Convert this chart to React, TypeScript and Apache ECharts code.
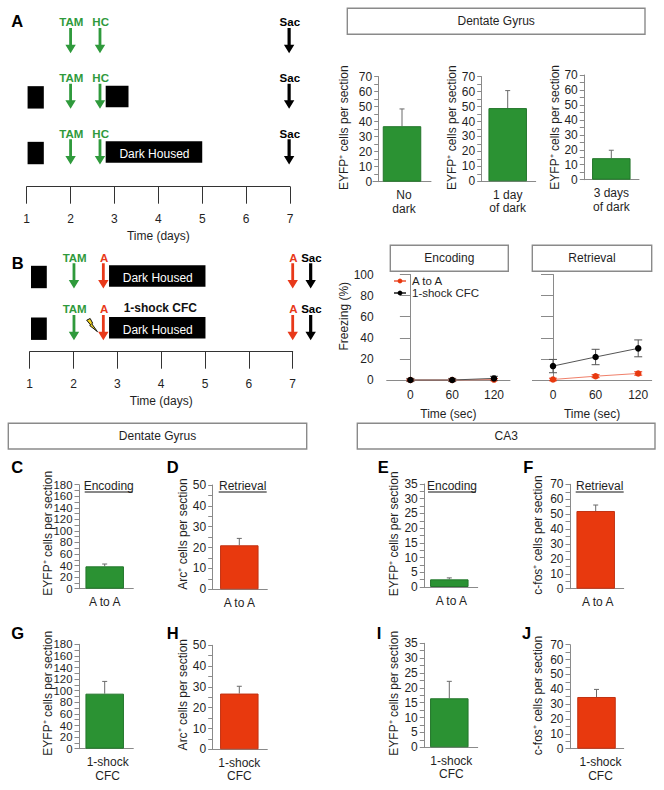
import React, { useEffect, useRef } from "react";
import * as echarts from "echarts";

const FONT = '"Liberation Sans", Arial, sans-serif';
const GREEN = "#2b9233";
const GREEN_EDGE = "#23762b";
const RED = "#e8390e";
const RED_EDGE = "#c23212";
const ARROW_GREEN = "#2f9a3c";
const ARROW_RED = "#e8391a";
const GREY = "#8a8a8a";
const INK = "#1f1f1f";

// ---------- Data ----------
const darkCategories = ["No\ndark", "1 day\nof dark", "3 days\nof dark"];
const darkMeans = [37, 49, 14.4];
const darkErrorTops = [48.5, 60.7, 19.7];

const dgEyfpTicksMax = 180;
const dgArcTicksMax = 50;
const ca3EyfpTicksMax = 35;
const ca3FosTicksMax = 70;
const dgEyfpTickValues = [0, 20, 40, 60, 80, 100, 120, 140, 160, 180];

const aToALabel = "A to A";
const shockLabel = "1-shock\nCFC";
const regionMeans = [38.7, 21.1, 2.6, 52.1, 94.9, 26.8, 16.5, 34.8];
const regionErrorTops = [42.7, 24.4, 3.1, 56.1, 116, 30.3, 22.2, 39.9];

const freezeSeconds = [0, 60, 120];
const encodingAToA = [0, 0, 0.4];
const encodingShock = [0, 0, 1.5];
const encodingErrors = [1.5, 1.5, 2];
const retrievalAToA = [0.5, 3.6, 6.2];
const retrievalShock = [13.2, 21.8, 30];
const retrievalAToAErrors = [1.2, 1.4, 1.6];
const retrievalShockErrors = [6.3, 7.3, 8];

const dayTicks = [1, 2, 3, 4, 5, 6, 7];
// [label, day, row, colour name]
const scheduleAEvents: [string, number, number, string][] = [
  ["TAM", 2, 0, "green"], ["HC", 2.67, 0, "green"], ["Sac", 6.98, 0, "black"],
  ["TAM", 2, 1, "green"], ["HC", 2.67, 1, "green"], ["Sac", 6.98, 1, "black"],
  ["TAM", 2, 2, "green"], ["HC", 2.67, 2, "green"], ["Sac", 6.98, 2, "black"],
];
const scheduleBEvents: [string, number, number, string][] = [
  ["TAM", 2.01, 0, "green"], ["A", 2.68, 0, "red"], ["A", 7, 0, "red"], ["Sac", 7.41, 0, "black"],
  ["TAM", 2.01, 1, "green"], ["A", 2.68, 1, "red"], ["A", 7, 1, "red"], ["Sac", 7.41, 1, "black"],
];
// [start day, end day, row, caption]
const scheduleABoxes: [number, number, number, string][] = [
  [1.02, 1.39, 1, ""], [2.8, 3.32, 1, ""],
  [1.02, 1.39, 2, ""], [2.8, 5, 2, "Dark Housed"],
];
const scheduleBBoxes: [number, number, number, string][] = [
  [1.03, 1.39, 0, ""], [2.81, 5.01, 0, "Dark Housed"],
  [1.03, 1.39, 1, ""], [2.81, 5.01, 1, "Dark Housed"],
];

// ---------- Layout ----------
const barLayouts = [
  { axisX: 378.7, top: 76.7, bottom: 181.7, center: 402, right: 431, shift: 2, max: 70, interval: 10, name: "EYFP⁺ cells per section", gap: 29, nameY: 127.7, color: GREEN, edge: GREEN_EDGE },
  { axisX: 481.7, top: 76.7, bottom: 181.3, center: 507.7, right: 535.7, shift: 0, max: 70, interval: 10, name: "EYFP⁺ cells per section", gap: 18.5, nameY: 127.7, color: GREEN, edge: GREEN_EDGE },
  { axisX: 584.3, top: 75, bottom: 179.7, center: 611.3, right: 639, shift: 0, max: 70, interval: 10, name: "EYFP⁺ cells per section", gap: 23, nameY: 127.7, color: GREEN, edge: GREEN_EDGE },
];
const regionLayouts = [
  { axisX: 79, top: 484.7, bottom: 588.7, center: 104.7, right: 133.3, shift: 0, max: dgEyfpTicksMax, interval: 20, name: "EYFP⁺ cells per section", gap: 25, nameY: 533.3, color: GREEN, edge: GREEN_EDGE, label: aToALabel },
  { axisX: 212.7, top: 485, bottom: 589.3, center: 239.3, right: 267.3, shift: 0, max: dgArcTicksMax, interval: 10, name: "Arc⁺ cells per section", gap: 21, nameY: 534, color: RED, edge: RED_EDGE, label: aToALabel },
  { axisX: 424.3, top: 484, bottom: 587, center: 449.3, right: 477.7, shift: 2, max: ca3EyfpTicksMax, interval: 5, name: "EYFP⁺ cells per section", gap: 24, nameY: 533.8, color: GREEN, edge: GREEN_EDGE, label: aToALabel },
  { axisX: 570, top: 484.3, bottom: 588.7, center: 595.7, right: 623.7, shift: 2, max: ca3FosTicksMax, interval: 10, name: "c-fos⁺ cells per section", gap: 26, nameY: 535, color: RED, edge: RED_EDGE, label: aToALabel },
  { axisX: 79, top: 644.3, bottom: 748.7, center: 104.7, right: 133.3, shift: 3, max: dgEyfpTicksMax, interval: 20, name: "EYFP⁺ cells per section", gap: 25, nameY: 693.3, color: GREEN, edge: GREEN_EDGE, label: shockLabel },
  { axisX: 212.7, top: 645.3, bottom: 749.3, center: 239.3, right: 267.3, shift: 0, max: dgArcTicksMax, interval: 10, name: "Arc⁺ cells per section", gap: 21, nameY: 694.7, color: RED, edge: RED_EDGE, label: shockLabel },
  { axisX: 424.3, top: 643.3, bottom: 747.3, center: 449.3, right: 477.7, shift: 2, max: ca3EyfpTicksMax, interval: 5, name: "EYFP⁺ cells per section", gap: 24, nameY: 693.3, color: GREEN, edge: GREEN_EDGE, label: shockLabel },
  { axisX: 570, top: 644.7, bottom: 748.7, center: 596.5, right: 623.7, shift: 4, max: ca3FosTicksMax, interval: 10, name: "c-fos⁺ cells per section", gap: 26, nameY: 695.5, color: RED, edge: RED_EDGE, label: shockLabel },
];

const panelLetters: [string, number, number][] = [
  ["A", 17.3, 20.7], ["B", 17.7, 262.7], ["C", 17.3, 466.7], ["D", 172.7, 466.7],
  ["E", 383.3, 467], ["F", 528.3, 467], ["G", 17.7, 632.7], ["H", 172.7, 632.7],
  ["I", 379, 632.7], ["J", 526.7, 632.7],
];
const titleBoxes: [string, number, number, number, number][] = [
  ["Dentate Gyrus", 347.3, 8.3, 297.7, 26],
  ["Encoding", 390.3, 245.3, 118, 26],
  ["Retrieval", 532.3, 245.3, 119.4, 26],
  ["Dentate Gyrus", 8.3, 423.3, 298.4, 25.7],
  ["CA3", 357.3, 423.3, 297.7, 25.7],
];
const underlined: [string, number, number][] = [
  ["Encoding", 108.7, 486], ["Retrieval", 242.7, 486], ["Encoding", 452, 486], ["Retrieval", 599.7, 486],
];

const eventColours: Record<string, string> = { green: ARROW_GREEN, red: ARROW_RED, black: "#000" };

function buildOption() {
  const grid: any[] = [];
  const xAxis: any[] = [];
  const yAxis: any[] = [];
  const series: any[] = [];

  const addBarPanel = (l: any, label: string, mean: number, top: number) => {
    const idx = grid.length;
    const left = 2 * l.center - l.right;
    const namePad = Math.max(0, 2 * ((l.top + l.bottom) / 2 - l.nameY));
    const denseTicks = l.max === dgEyfpTicksMax;
    grid.push({ left, top: l.top, width: 2 * (l.right - l.center), height: l.bottom - l.top });
    xAxis.push({
      gridIndex: idx, type: "category", data: [label],
      axisLine: { lineStyle: { color: GREY, width: 1 } }, axisTick: { show: false },
      axisLabel: { color: INK, fontFamily: FONT, fontSize: 12, lineHeight: 13.3, margin: 7, padding: [0, 0, 0, l.shift * 2] },
    });
    yAxis.push({
      gridIndex: idx, type: "value", min: 0, max: l.max, interval: l.interval,
      offset: left - l.axisX, splitLine: { show: false },
      axisLine: { show: true, lineStyle: { color: GREY, width: 1 } },
      axisTick: { show: true, length: 4.5, lineStyle: { color: GREY } },
      minorTick: { show: true, splitNumber: 2, length: 4.5, lineStyle: { color: GREY } },
      axisLabel: {
        show: !denseTicks, color: INK, fontFamily: FONT, fontSize: 12, margin: 6.5,
        hideOverlap: false, showMinLabel: true, showMaxLabel: true,
      },
      name: l.name, nameLocation: "middle", nameGap: l.gap, nameRotate: 90,
      nameTextStyle: { color: INK, fontFamily: FONT, fontSize: 12, padding: [0, 0, 0, namePad] },
    });
    if (denseTicks) {
      // Every tick of this tightly packed scale is labelled, as in the figure;
      // ECharts' own axis labels would drop some of them as overlapping.
      series.push({
        type: "custom", xAxisIndex: idx, yAxisIndex: idx, clip: false,
        data: dgEyfpTickValues.map((v) => [0, v]),
        encode: { x: 0, y: 1 },
        renderItem: (_: any, api: any) => {
          const p = api.coord([0, api.value(1)]);
          return {
            type: "text", x: l.axisX - 6.5, y: p[1],
            style: { text: String(api.value(1)), fill: INK, fontFamily: FONT, fontSize: 11.4, align: "right", verticalAlign: "middle" },
          };
        },
      });
    }
    series.push({
      type: "bar", xAxisIndex: idx, yAxisIndex: idx, data: [mean], barWidth: 38.5,
      itemStyle: { color: l.color, borderColor: l.edge, borderWidth: 1 },
    });
    series.push({
      type: "custom", xAxisIndex: idx, yAxisIndex: idx, data: [[0, mean, top]],
      encode: { x: 0, y: [1, 2] },
      renderItem: (_: any, api: any) => {
        const b = api.coord([api.value(0), api.value(1)]);
        const t = api.coord([api.value(0), api.value(2)]);
        const style = { stroke: "#6a6a6a", lineWidth: 1, fill: "none" };
        return {
          type: "group",
          children: [
            { type: "line", shape: { x1: b[0], y1: b[1], x2: t[0], y2: t[1] }, style },
            { type: "line", shape: { x1: t[0] - 2.5, y1: t[1], x2: t[0] + 2.5, y2: t[1] }, style },
          ],
        };
      },
    });
  };

  barLayouts.forEach((l, i) => addBarPanel(l, darkCategories[i], darkMeans[i], darkErrorTops[i]));
  regionLayouts.forEach((l, i) => addBarPanel(l, l.label, regionMeans[i], regionErrorTops[i]));

  // Schedules
  const addSchedule = (
    left: number, width: number, top: number, height: number, rowMax: number, nameGap: number,
    events: [string, number, number, string][], boxes: [number, number, number, string][], withBolt: boolean,
  ) => {
    const idx = grid.length;
    grid.push({ left, top, width, height });
    xAxis.push({
      gridIndex: idx, type: "value", position: "bottom",
      min: dayTicks[0], max: dayTicks[dayTicks.length - 1], interval: 1,
      splitLine: { show: false },
      axisLine: { onZero: false, lineStyle: { color: "#333", width: 1 } },
      axisTick: { show: true, length: 17, lineStyle: { color: "#333", width: 1 } },
      axisLabel: { color: INK, fontFamily: FONT, fontSize: 12, margin: 26.5 },
      name: "Time (days)", nameLocation: "middle", nameGap,
      nameTextStyle: { color: INK, fontFamily: FONT, fontSize: 12 },
    });
    yAxis.push({ gridIndex: idx, type: "value", min: 0, max: rowMax, inverse: true, show: false, splitLine: { show: false } });
    series.push({
      type: "custom", xAxisIndex: idx, yAxisIndex: idx, clip: false, z: 3,
      data: boxes.map((b) => [b[0], b[2], b[1]]),
      encode: { x: [0, 2], y: 1 },
      renderItem: (p: any, api: any) => {
        const b = boxes[p.dataIndex];
        const a = api.coord([b[0], b[2]]);
        const c = api.coord([b[1], b[2]]);
        const wide = b[1] - b[0] > 0.45;
        const y0 = a[1] + (wide ? 10.3 : 10.8);
        const y1 = a[1] + (wide ? 31.8 : 33.2);
        const children: any[] = [{ type: "rect", shape: { x: a[0], y: y0, width: c[0] - a[0], height: y1 - y0 }, style: { fill: "#000" } }];
        if (b[3]) {
          children.push({
            type: "text", x: (a[0] + c[0]) / 2 + 0.5, y: (y0 + y1) / 2 + 2,
            style: { text: b[3], fill: "#fff", fontFamily: FONT, fontSize: 12, align: "center", verticalAlign: "middle" },
          });
        }
        return { type: "group", children };
      },
    });
    series.push({
      type: "custom", xAxisIndex: idx, yAxisIndex: idx, clip: false, z: 4,
      data: events.map((e) => [e[1], e[2]]),
      encode: { x: 0, y: 1 },
      renderItem: (p: any, api: any) => {
        const e = events[p.dataIndex];
        const a = api.coord([e[1], e[2]]);
        const colour = eventColours[e[3]];
        const x = a[0];
        const sY = a[1] + 8.3;
        const tip = a[1] + 33.5;
        const hY = tip - 8.5;
        const sw = e[3] === "black" ? 1.6 : 1.4;
        return {
          type: "group",
          children: [
            {
              type: "polygon",
              shape: { points: [[x - sw, sY], [x + sw, sY], [x + sw, hY], [x + 5.2, hY], [x, tip], [x - 5.2, hY], [x - sw, hY]] },
              style: { fill: colour },
            },
            {
              type: "text", x: x + 0.7, y: a[1] + 2.5,
              style: { text: e[0], fill: colour, fontFamily: FONT, fontSize: 11.5, fontWeight: "bold", align: "center", verticalAlign: "middle" },
            },
          ],
        };
      },
    });
    if (withBolt) {
      series.push({
        type: "custom", xAxisIndex: idx, yAxisIndex: idx, clip: false, z: 5,
        data: [[2.3, 1]],
        encode: { x: 0, y: 1 },
        renderItem: (_: any, api: any) => {
          const o = api.coord([api.value(0), api.value(1)]);
          const pts = [[0, 13.5], [3.5, 11.8], [6, 16.5], [5, 17], [10.8, 25], [3, 18.8], [4, 18.3]].map((q) => [o[0] + q[0], o[1] + q[1]]);
          return { type: "polygon", shape: { points: pts }, style: { fill: "#f2d31f", stroke: "#111", lineWidth: 1 } };
        },
      });
      series.push({
        type: "custom", xAxisIndex: idx, yAxisIndex: idx, clip: false, silent: true,
        data: [[3.98, 1]],
        encode: { x: 0, y: 1 },
        renderItem: (_: any, api: any) => {
          const o = api.coord([api.value(0), api.value(1)]);
          return {
            type: "text", x: o[0], y: o[1] + 1.3,
            style: { text: "1-shock CFC", fill: "#111", fontFamily: FONT, fontSize: 12, fontWeight: "bold", align: "center", verticalAlign: "middle" },
          };
        },
      });
    }
  };
  addSchedule(26.7, 263.3, 19.7, 167, 3, 43, scheduleAEvents, scheduleABoxes, false);
  addSchedule(29.7, 263, 255, 96.7, 96.7 / 51.7, 43.5, scheduleBEvents, scheduleBBoxes, true);

  // Freezing
  const addFreeze = (
    left: number, right: number, xMin: number, xMax: number, tickLen: number, showLabels: boolean,
    aVals: number[], sVals: number[], aErr: number[], sErr: number[],
  ) => {
    const idx = grid.length;
    grid.push({ left, top: 274.5, width: right - left, height: 105.5 });
    xAxis.push({
      gridIndex: idx, type: "value", min: xMin, max: xMax, splitLine: { show: false },
      axisLine: { lineStyle: { color: GREY, width: 1 } }, axisTick: { show: false },
      axisLabel: { color: INK, fontFamily: FONT, fontSize: 12, margin: 9, customValues: freezeSeconds },
      name: "Time (sec)", nameLocation: "middle", nameGap: 27.5,
      nameTextStyle: { color: INK, fontFamily: FONT, fontSize: 12 },
    });
    yAxis.push({
      gridIndex: idx, type: "value", min: 0, max: 100, interval: 20, splitLine: { show: false },
      axisLine: { show: true, lineStyle: { color: GREY, width: 1 } },
      axisTick: { show: true, length: tickLen, lineStyle: { color: GREY } },
      axisLabel: { show: showLabels, color: INK, fontFamily: FONT, fontSize: 12, margin: 13, hideOverlap: false, showMinLabel: true, showMaxLabel: true },
      ...(showLabels
        ? { name: "Freezing (%)", nameLocation: "middle", nameGap: 37, nameRotate: 90, nameTextStyle: { color: INK, fontFamily: FONT, fontSize: 12, padding: [0, 0, 0, 22] } }
        : {}),
    });
    const toPairs = (vals: number[]) => freezeSeconds.map((s, i) => [s, vals[i]]);
    const errSeries = (vals: number[], errs: number[], colour: string) => ({
      type: "custom", xAxisIndex: idx, yAxisIndex: idx, clip: false, z: 2,
      data: freezeSeconds.map((s, i) => [s, vals[i] - errs[i], vals[i] + errs[i]]),
      encode: { x: 0, y: [1, 2] },
      renderItem: (_: any, api: any) => {
        const l = api.coord([api.value(0), api.value(1)]);
        const h = api.coord([api.value(0), api.value(2)]);
        const style = { stroke: colour, lineWidth: 1, fill: "none" };
        return {
          type: "group",
          children: [
            { type: "line", shape: { x1: l[0], y1: l[1], x2: h[0], y2: h[1] }, style },
            { type: "line", shape: { x1: l[0] - 4, y1: l[1], x2: l[0] + 4, y2: l[1] }, style },
            { type: "line", shape: { x1: h[0] - 4, y1: h[1], x2: h[0] + 4, y2: h[1] }, style },
          ],
        };
      },
    });
    series.push(errSeries(aVals, aErr, ARROW_RED));
    series.push(errSeries(sVals, sErr, "#555"));
    series.push({
      name: "A to A", type: "line", xAxisIndex: idx, yAxisIndex: idx, data: toPairs(aVals), clip: false, z: 3,
      symbol: "circle", symbolSize: 6.5, showSymbol: true,
      itemStyle: { color: RED }, lineStyle: { color: "#f0806a", width: 1 },
    });
    series.push({
      name: "1-shock CFC", type: "line", xAxisIndex: idx, yAxisIndex: idx, data: toPairs(sVals), clip: false, z: 4,
      symbol: "circle", symbolSize: 6.5, showSymbol: true,
      itemStyle: { color: "#000" }, lineStyle: { color: "#555", width: 1 },
    });
  };
  addFreeze(386.7, 510, -34, 143, 10.5, true, encodingAToA, encodingShock, encodingErrors.map((e) => e * 0.5), encodingErrors);
  addFreeze(532.4, 651.7, -29, 139, 12, false, retrievalAToA, retrievalShock, retrievalAToAErrors, retrievalShockErrors);

  const graphic: any[] = [];
  panelLetters.forEach(([t, x, y]) =>
    graphic.push({
      type: "text", x, y,
      style: { text: t, fontFamily: FONT, fontSize: 16.5, fontWeight: "bold", fill: "#000", align: "center", verticalAlign: "middle" },
    }),
  );
  titleBoxes.forEach(([t, x, y, w, h]) => {
    graphic.push({ type: "rect", shape: { x, y, width: w, height: h }, style: { fill: "#fff", stroke: GREY, lineWidth: 1.4 }, z: 1 });
    graphic.push({
      type: "text", x: x + w / 2, y: y + h / 2, z: 2,
      style: { text: t, fontFamily: FONT, fontSize: 12, fill: INK, align: "center", verticalAlign: "middle" },
    });
  });
  underlined.forEach(([t, x, y]) => {
    graphic.push({
      type: "text", x, y,
      style: { text: t, fontFamily: FONT, fontSize: 12, fill: INK, align: "center", verticalAlign: "middle" },
    });
    graphic.push({ type: "line", shape: { x1: x - 24, y1: y + 6, x2: x + 24, y2: y + 6 }, style: { stroke: "#111", lineWidth: 1 } });
  });

  return {
    animation: false,
    backgroundColor: "#fff",
    textStyle: { fontFamily: FONT },
    tooltip: { show: false },
    legend: {
      show: true, orient: "vertical", left: 393, top: 275, itemWidth: 12, itemHeight: 6, itemGap: 0,
      padding: 0, selectedMode: false, data: ["A to A", "1-shock CFC"],
      textStyle: { color: INK, fontFamily: FONT, fontSize: 11.5, padding: [0, 0, 0, 1], lineHeight: 11.5 },
    },
    grid, xAxis, yAxis, series, graphic,
  };
}

export default function App() {
  const ref = useRef<HTMLDivElement>(null);
  useEffect(() => {
    document.body.style.margin = "0";
    const chart = echarts.init(ref.current!, null, { renderer: "svg", width: 664, height: 790 });
    chart.setOption(buildOption() as any);
    return () => chart.dispose();
  }, []);
  return <div ref={ref} style={{ width: 664, height: 790 }} />;
}
